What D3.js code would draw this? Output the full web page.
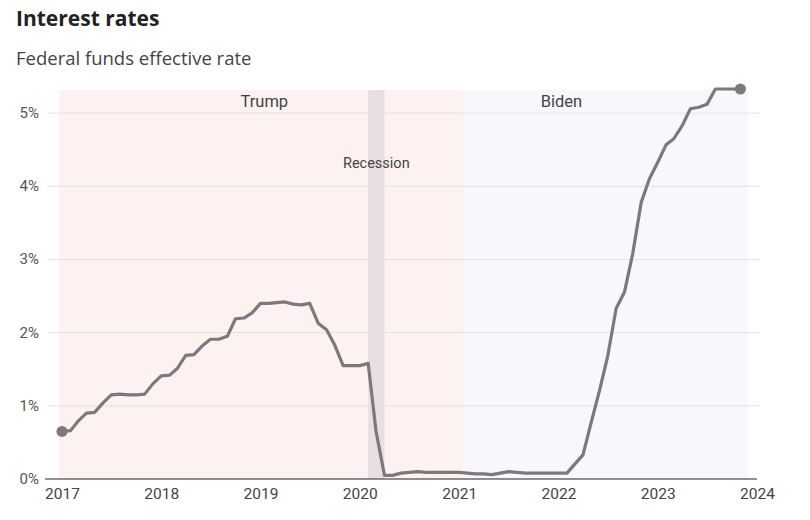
<!DOCTYPE html>
<html>
<head>
<meta charset="utf-8">
<script src="https://cdn.jsdelivr.net/npm/d3@7"></script>
<style>
  body { margin: 0; background: #fff; font-family: Roboto, "Noto Sans", sans-serif; }
  svg text { fill: #333; }
</style>
</head>
<body>
<script>
// monthly effective rate, Jan 2017 - Nov 2023
var months = d3.timeMonths(new Date(2017, 0, 1), new Date(2023, 11, 1));
var rates = [
  0.65, 0.66, 0.79, 0.90, 0.91, 1.04, 1.15, 1.16, 1.15, 1.15, 1.16, 1.30,
  1.41, 1.42, 1.51, 1.69, 1.70, 1.82, 1.91, 1.91, 1.95, 2.19, 2.20, 2.27,
  2.40, 2.40, 2.41, 2.42, 2.39, 2.38, 2.40, 2.13, 2.04, 1.83, 1.55, 1.55,
  1.55, 1.58, 0.65, 0.05, 0.05, 0.08, 0.09, 0.10, 0.09, 0.09, 0.09, 0.09,
  0.09, 0.08, 0.07, 0.07, 0.06, 0.08, 0.10, 0.09, 0.08, 0.08, 0.08, 0.08,
  0.08, 0.08, 0.20, 0.33, 0.77, 1.21, 1.68, 2.33, 2.56, 3.08, 3.78, 4.10,
  4.33, 4.57, 4.65, 4.83, 5.06, 5.08, 5.12, 5.33, 5.33, 5.33, 5.33
];
var presidents = ["Trump", "Biden"];
var termStart = [new Date(2016, 11, 21), new Date(2021, 0, 15)];
var termEnd = [new Date(2021, 0, 15), new Date(2023, 11, 1)];
var termLabelAt = [new Date(2019, 0, 15), new Date(2022, 0, 12)];
var termColors = ["#fdf1f1", "#f8f7fb"];
var recession = [new Date(2020, 1, 1), new Date(2020, 3, 1)];
var yTicks = [0, 1, 2, 3, 4, 5];
var xTicks = [2017, 2018, 2019, 2020, 2021, 2022, 2023, 2024];

var width = 810, height = 520;
var data = months.map(function(m, i){ return {date: m, value: rates[i]}; });

var x = d3.scaleTime()
          .domain([new Date(2017, 0, 1), new Date(2024, 0, 1)])
          .range([62, 757]);
var y = d3.scaleLinear()
          .domain([0, 5.33])
          .range([479, 89]);

var svg = d3.select("body").append("svg")
            .attr("width", width)
            .attr("height", height);

svg.append("text")
   .attr("x", 16).attr("y", 26)
   .style("font-family", "'Open Sans', sans-serif")
   .style("font-size", "21px").style("font-weight", "bold")
   .style("fill", "#222")
   .text("Interest rates");

svg.append("text")
   .attr("x", 16).attr("y", 65)
   .style("font-family", "'Open Sans', sans-serif")
   .style("font-size", "18.5px").style("fill", "#444")
   .text("Federal funds effective rate");

// presidential terms
svg.selectAll(".term")
   .data(presidents)
   .enter()
     .append("rect")
     .attr("class", "term")
     .attr("x", function(d, i){ return x(termStart[i]); })
     .attr("width", function(d, i){ return x(termEnd[i]) - x(termStart[i]); })
     .attr("y", 90)
     .attr("height", y(0) - 90)
     .attr("fill", function(d, i){ return termColors[i]; });

// gridlines
svg.selectAll(".grid")
   .data(yTicks.slice(1))
   .enter()
     .append("line")
     .attr("x1", 48).attr("x2", 760)
     .attr("y1", function(d){ return y(d); })
     .attr("y2", function(d){ return y(d); })
     .attr("stroke", "#e5e1e2")
     .attr("stroke-width", 1);

// recession band
svg.append("rect")
   .attr("x", x(recession[0]))
   .attr("width", x(recession[1]) - x(recession[0]))
   .attr("y", 90)
   .attr("height", y(0) - 90)
   .attr("fill", "#e9dfe0");

svg.append("text")
   .attr("x", (x(recession[0]) + x(recession[1])) / 2)
   .attr("y", 168)
   .style("text-anchor", "middle")
   .style("font-size", "14.5px").style("fill", "#444")
   .text("Recession");

svg.selectAll(".term-label")
   .data(presidents)
   .enter()
     .append("text")
     .attr("x", function(d, i){ return x(termLabelAt[i]); })
     .attr("y", 107)
     .style("text-anchor", "middle")
     .style("font-size", "16.5px").style("fill", "#444")
     .text(function(d){ return d; });

// y labels
svg.selectAll(".ylab")
   .data(yTicks)
   .enter()
     .append("text")
     .attr("x", 39)
     .attr("y", function(d){ return y(d) + 5; })
     .style("text-anchor", "end")
     .style("font-size", "15px").style("fill", "#555")
     .text(function(d){ return d + "%"; });

// x axis
var xAxis = d3.axisBottom(x)
              .tickValues(xTicks.map(function(t){ return new Date(t, 0, 1); }))
              .tickFormat(d3.timeFormat("%Y"))
              .tickSize(0)
              .tickPadding(9);

var gx = svg.append("g")
            .attr("transform", "translate(0," + y(0) + ")")
            .call(xAxis);
gx.select(".domain").remove();
gx.selectAll("text")
  .style("font-size", "15.5px").style("fill", "#444")
  .style("font-family", "Roboto, 'Noto Sans', sans-serif");

svg.append("line")
   .attr("x1", 45).attr("x2", 757)
   .attr("y1", y(0)).attr("y2", y(0))
   .attr("stroke", "#222").attr("stroke-width", 1.2);

// rate line
var line = d3.line()
             .x(function(d){ return x(d.date); })
             .y(function(d){ return y(d.value); });

svg.append("path")
   .datum(data)
   .attr("fill", "none")
   .attr("stroke", "#7d787b")
   .attr("stroke-width", 3.2)
   .attr("stroke-linejoin", "round")
   .attr("d", line);

svg.selectAll(".end")
   .data([data[0], data[data.length - 1]])
   .enter()
     .append("circle")
     .attr("cx", function(d){ return x(d.date); })
     .attr("cy", function(d){ return y(d.value); })
     .attr("r", 5.5)
     .attr("fill", "#7d787b");
</script>
</body>
</html>
